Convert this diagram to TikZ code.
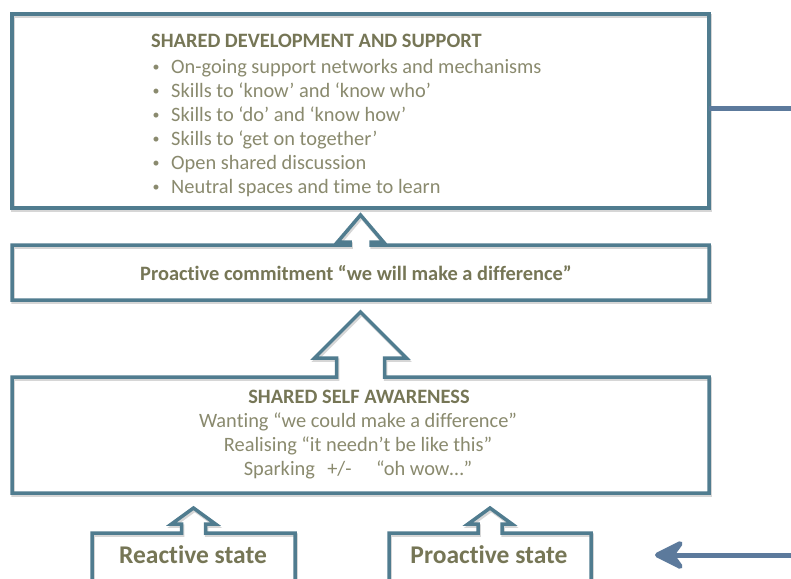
\documentclass[tikz,border=0pt]{standalone}
\usepackage{fontspec}
\setmainfont{Carlito}[Ligatures={NoCommon}]
\usetikzlibrary{calc,arrows.meta}
\definecolor{bordc}{RGB}{80,124,143}
\definecolor{linkc}{RGB}{92,122,156}
\definecolor{titlec}{RGB}{118,118,86}
\definecolor{bodyc}{RGB}{138,138,110}
\tikzset{
  boxarea/.style={inner sep=0pt, outer sep=0pt, draw=none},
  boxline/.style={draw=bordc, line width=3.5pt, line join=miter,
    preaction={draw=black!35, opacity=0.45, line width=3.5pt,
      transform canvas={shift={(1.2pt,-2.2pt)}}}},
  titletxt/.style={text=titlec, font=\bfseries\fontsize{20.4}{24}\selectfont, inner sep=0pt},
  bodytxt/.style={text=bodyc, font=\fontsize{20.4}{24}\selectfont, inner sep=0pt},
  bullettxt/.style={text=bodyc, font=\fontsize{14}{16}\selectfont, inner sep=0pt},
  bigtxt/.style={text=titlec, font=\bfseries\fontsize{25.5}{30}\selectfont, inner sep=0pt},
  linkline/.style={draw=linkc, line width=5pt}
}
% #1 node, #2 shaft length, #3 head length, #4 head half width, #5 shaft half width
\newcommand\boxwitharrow[5]{%
  \draw[boxline] (#1.north west) -- ($(#1.north)+(-#5,0)$) -- ($(#1.north)+(-#5,-#2)$)
    -- ($(#1.north)+(-#4,-#2)$) -- ($(#1.north)+(0,-#2-#3)$) -- ($(#1.north)+(#4,-#2)$)
    -- ($(#1.north)+(#5,-#2)$) -- ($(#1.north)+(#5,0)$) -- (#1.north east)
    -- (#1.south east) -- (#1.south west) -- cycle;}
\begin{document}
\begin{tikzpicture}[x=1pt,y=-1pt]
\useasboundingbox (0,0) rectangle (791,578);
\clip (0,0) rectangle (791,578);
\fill[white] (0,0) rectangle (791,578);
% box areas
\node[boxarea, minimum width=697pt, minimum height=194pt] (b1) at (360.5,111) {};
\node[boxarea, minimum width=697pt, minimum height=55pt] (b2) at (360.5,272.5) {};
\node[boxarea, minimum width=697pt, minimum height=116pt] (b3) at (360.5,435) {};
\node[boxarea, minimum width=203pt, minimum height=67pt] (b4) at (193.5,566.5) {};
\node[boxarea, minimum width=202pt, minimum height=67pt] (b5) at (490,566.5) {};
% outlines
\draw[boxline] (b1.north west) rectangle (b1.south east);
\boxwitharrow{b2}{3}{27}{23}{10.5}
\boxwitharrow{b3}{19}{46}{46}{24}
\boxwitharrow{b4}{9}{16}{22}{12}
\boxwitharrow{b5}{9}{16}{22}{12}
% right-hand connectors
\coordinate (rtop) at (795,108);
\coordinate (rbot) at (795,555);
\coordinate (tipc) at (655,555);
\draw[linkline] (b1.east |- rtop) -- (rtop);
\draw[linkline, -{Stealth[length=36pt, width=36pt, inset=13pt, round]}] (rbot) -- (tipc);
% box 1 text
\node[titletxt, anchor=base west] (t1) at (151,48) {SHARED DEVELOPMENT AND SUPPORT};
\foreach \n/\yy/\txt in {1/73/{On-going support networks and mechanisms},
  2/97/{Skills to ‘know’ and ‘know who’},
  3/121/{Skills to ‘do’ and ‘know how’},
  4/145/{Skills to ‘get on together’},
  5/169/{Open shared discussion},
  6/193/{Neutral spaces and time to learn}}{
  \node[bullettxt, anchor=base] (bu\n) at (156,\yy-2) {•};
  \node[bodytxt, anchor=base west] (li\n) at (171,\yy) {\txt};
}
% box 2 text
\node[titletxt, anchor=base] (t2) at (356,280) {Proactive commitment “we will make a difference”};
% box 3 text
\node[titletxt, anchor=base] (t3) at (359,403) {SHARED SELF AWARENESS};
\node[bodytxt, anchor=base] (l31) at (358,427) {Wanting “we could make a difference”};
\node[bodytxt, anchor=base] (l32) at (358,451) {Realising “it needn’t be like this”};
\node[bodytxt, anchor=base] (l33) at (358,475) {Sparking\hspace{0.6em}+/-\hspace{1.2em}“oh wow…”};
% bottom boxes text
\node[bigtxt, anchor=base] (t4) at (193,563) {Reactive state};
\node[bigtxt, anchor=base] (t5) at (489,563) {Proactive state};
\end{tikzpicture}
\end{document}
